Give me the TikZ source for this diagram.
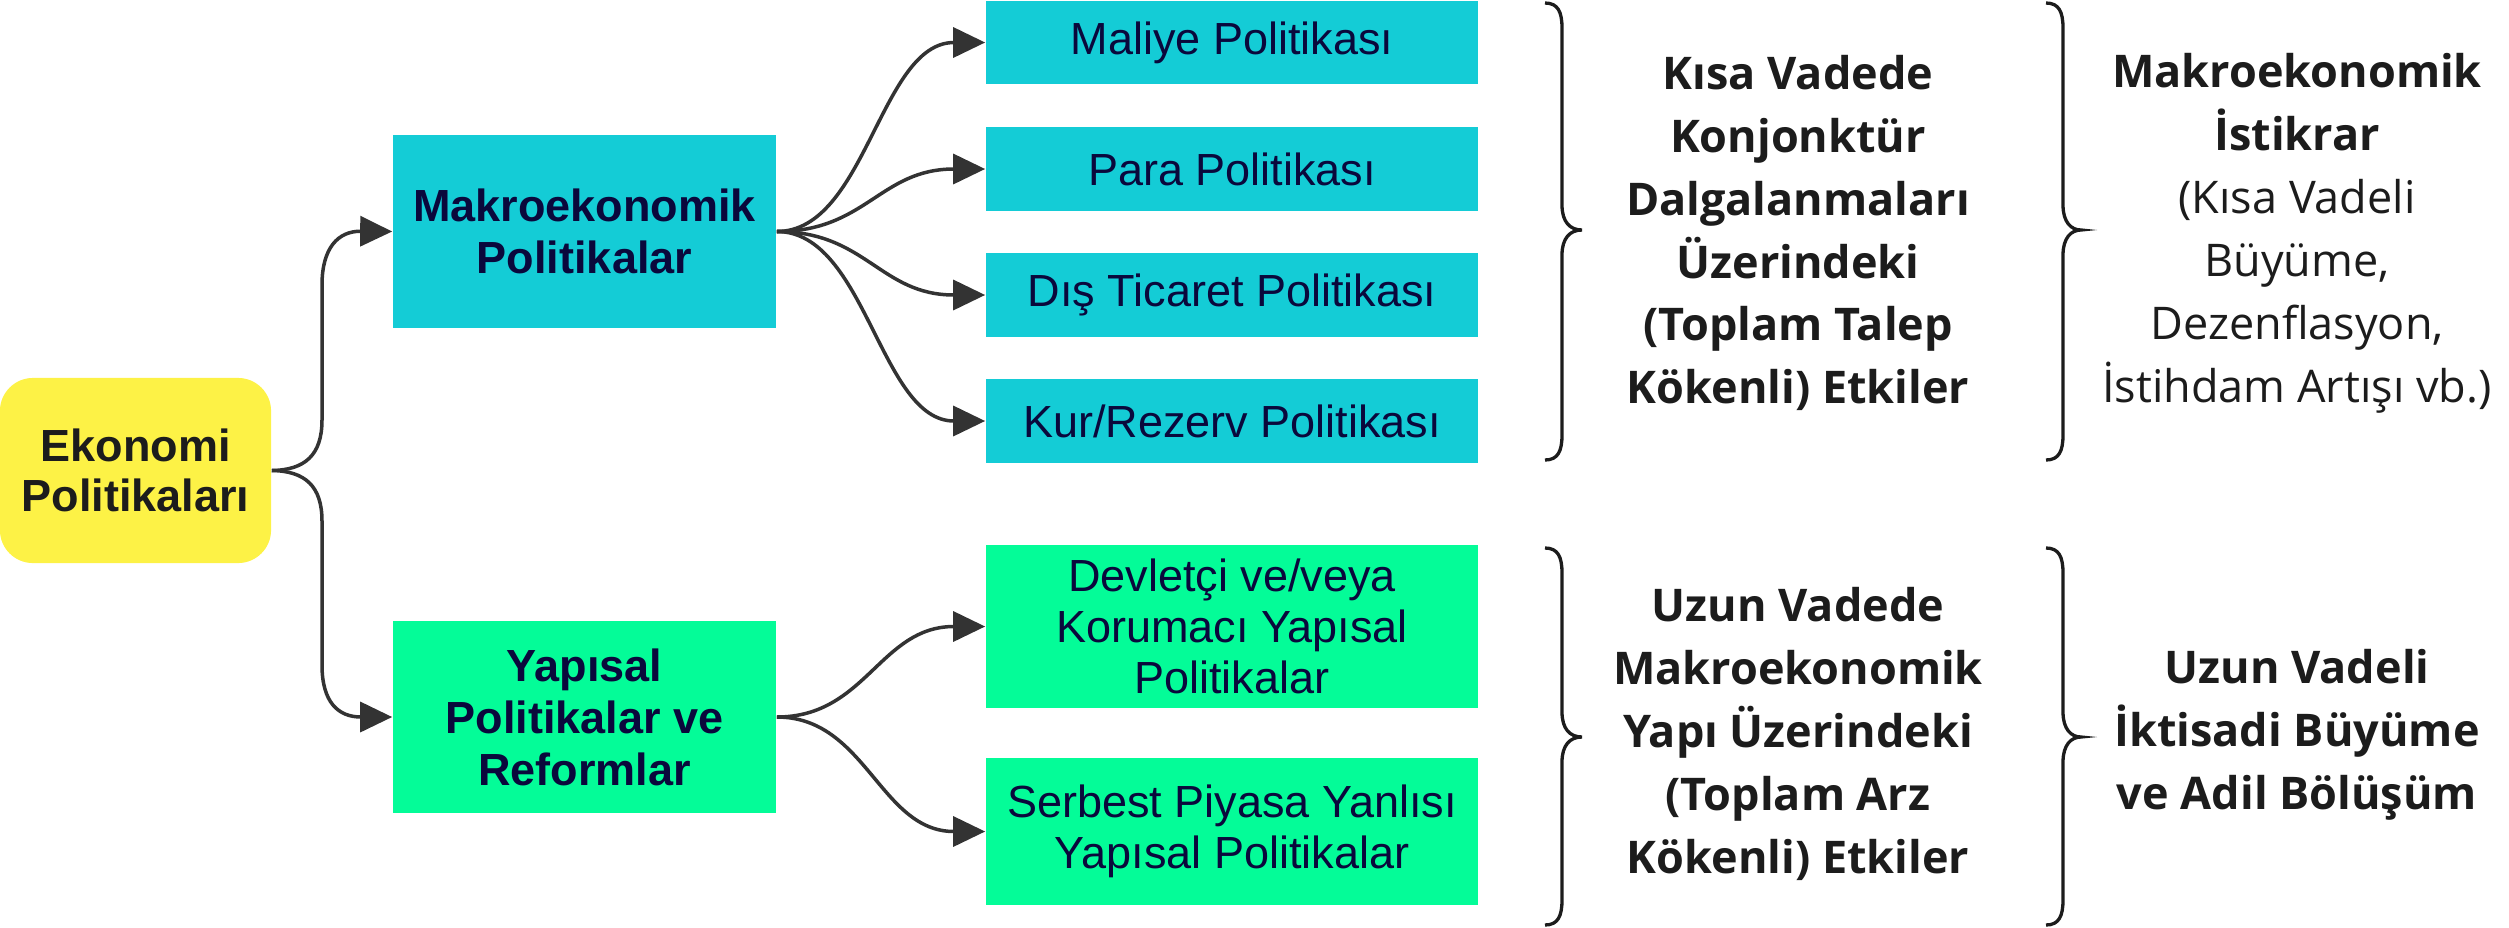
\documentclass[tikz,border=0pt]{standalone}
\usepackage{fontspec}
\setmainfont{Liberation Sans}
\newfontfamily\osans{Open Sans}
\usetikzlibrary{arrows.meta}
\definecolor{cyanbox}{RGB}{20,204,214}
\definecolor{greenbox}{RGB}{4,252,152}
\definecolor{yellowbox}{RGB}{253,242,70}
\definecolor{navy}{RGB}{10,8,60}
\definecolor{ink}{RGB}{28,28,28}
\definecolor{edgegray}{RGB}{51,51,51}
\begin{document}
\begin{tikzpicture}[x=0.01cm,y=-0.01cm,
  boxtext/.style={font=\fontsize{12.8}{14.6}\selectfont, align=center, inner sep=0pt},
  cbox/.style={boxtext, fill=cyanbox, text=navy, minimum width=4.92cm},
  gbox/.style={boxtext, fill=greenbox, text=navy, minimum width=4.92cm},
  mainbox/.style={boxtext, font=\fontsize{12.8}{14.8}\selectfont\bfseries, text=navy, minimum width=3.83cm},
  rootbox/.style={boxtext, font=\fontsize{12.8}{14.4}\selectfont\bfseries, fill=yellowbox, text=ink, rounded corners=0.33cm, minimum width=2.71cm, minimum height=1.85cm},
  conn/.style={draw=edgegray, line width=0.035cm, -{Triangle[length=0.32cm,width=0.30cm]}},
  bracestyle/.style={draw=ink, line width=0.033cm},
  efftext/.style={align=center, inner sep=0pt, text=ink, font=\osans\fontsize{12.8}{17.9}\selectfont}
]
\useasboundingbox (0,0) rectangle (2509,927);

% nodes
\node[rootbox] (Y) at (135.5,470.5) {Ekonomi\\Politikaları};
\node[mainbox, fill=cyanbox, minimum height=1.93cm] (M) at (584.5,231.5) {Makroekonomik\\Politikalar};
\node[mainbox, fill=greenbox, minimum height=1.91cm] (S) at (584.5,717) {Yapısal\\Politikalar ve\\Reformlar};

\node[cbox, minimum height=0.83cm] (P1) at (1232,42.5) {Maliye Politikası};
\node[cbox, minimum height=0.84cm] (P2) at (1232,169) {Para Politikası};
\node[cbox, minimum height=0.84cm] (P3) at (1232,295) {Dış Ticaret Politikası};
\node[cbox, minimum height=0.84cm] (P4) at (1232,421) {Kur/Rezerv Politikası};

\node[gbox, minimum height=1.63cm] (G1) at (1232,626.5) {Devletçi ve/veya\\Korumacı Yapısal\\Politikalar};
\node[gbox, minimum height=1.47cm] (G2) at (1232,831.5) {Serbest Piyasa Yanlısı\\Yapısal Politikalar};

\node[efftext, font=\osans\bfseries\fontsize{12.8}{17.9}\selectfont] (T1) at (1798,233)
  {Kısa Vadede\\Konjonktür\\Dalgalanmaları\\Üzerindeki\\(Toplam Talep\\Kökenli) Etkiler};
\node[efftext] (T2) at (2297,233)
  {\textbf{Makroekonomik}\\\textbf{İstikrar}\\(Kısa Vadeli\\Büyüme,\\Dezenflasyon,\\İstihdam Artışı vb.)};
\node[efftext, font=\osans\bfseries\fontsize{12.8}{17.9}\selectfont] (T3) at (1798,734)
  {Uzun Vadede\\Makroekonomik\\Yapı Üzerindeki\\(Toplam Arz\\Kökenli) Etkiler};
\node[efftext, font=\osans\bfseries\fontsize{12.8}{17.9}\selectfont] (T4) at (2297,735)
  {Uzun Vadeli\\İktisadi Büyüme\\ve Adil Bölüşüm};

% connectors from root
\draw[conn] (Y.east) .. controls (305,470) and (322,455) .. (322,420) -- (322,285)
  .. controls (322,248) and (338,231) .. (M.west);
\draw[conn] (Y.east) .. controls (305,471) and (322,486) .. (322,521) -- (322,665)
  .. controls (322,702) and (338,717) .. (S.west);

% fan from macro box
\foreach \t in {P1,P2,P3,P4}{
  \draw[conn] (M.east) .. controls (866,231.5) and (880,0|-\t.west) .. (\t.west);
}
% fan from structural box
\foreach \t in {G1,G2}{
  \draw[conn] (S.east) .. controls (866,717) and (880,0|-\t.west) .. (\t.west);
}

% braces
\draw[bracestyle] (1545,3) .. controls (1558,3) and (1562,12) .. (1562,28) -- (1562,205)
  .. controls (1562,222) and (1570,230) .. (1582,230)
  .. controls (1570,230) and (1562,238) .. (1562,255) -- (1562,435)
  .. controls (1562,451) and (1558,460) .. (1545,460);
\draw[bracestyle] (2046,3) .. controls (2059,3) and (2063,12) .. (2063,28) -- (2063,205)
  .. controls (2063,222) and (2071,230) .. (2081,230)
  .. controls (2071,230) and (2063,238) .. (2063,255) -- (2063,435)
  .. controls (2063,451) and (2059,460) .. (2046,460);
\draw[bracestyle] (1545,548) .. controls (1558,548) and (1562,557) .. (1562,573) -- (1562,712)
  .. controls (1562,729) and (1570,737) .. (1582,737)
  .. controls (1570,737) and (1562,745) .. (1562,762) -- (1562,900)
  .. controls (1562,916) and (1558,925) .. (1545,925);
\draw[bracestyle] (2046,548) .. controls (2059,548) and (2063,557) .. (2063,573) -- (2063,712)
  .. controls (2063,729) and (2071,737) .. (2081,737)
  .. controls (2071,737) and (2063,745) .. (2063,762) -- (2063,900)
  .. controls (2063,916) and (2059,925) .. (2046,925);
\end{tikzpicture}
\end{document}
